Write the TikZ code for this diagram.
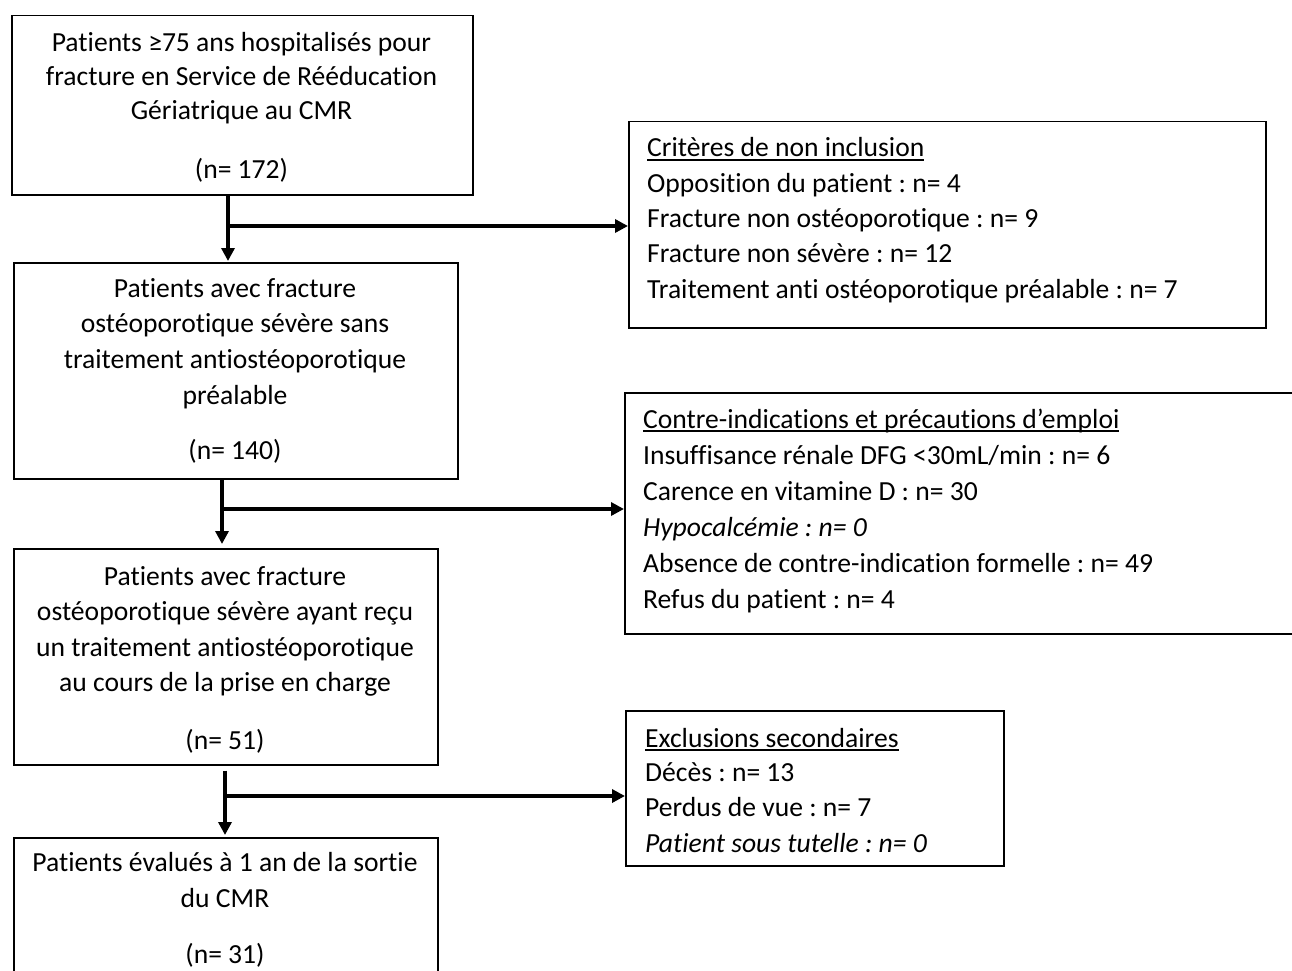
\documentclass[tikz,border=0pt]{standalone}
\usepackage{fontspec}
\setmainfont{Carlito}[Ligatures=NoCommon]
\usetikzlibrary{arrows.meta}
\frenchspacing
\newcommand\myul[1]{\setbox0\hbox{#1}\rlap{\rule[-3.5pt]{\wd0}{1.4pt}}\box0}
\begin{document}
\frenchspacing
\begin{tikzpicture}[x=1pt,y=-1pt,
  box/.style={draw, line width=1.5pt, rectangle, inner sep=0pt, anchor=north west},
  txt/.style={inner sep=0pt, font=\fontsize{27.6pt}{35pt}\selectfont},
  ctr/.style={txt, anchor=base},
  lft/.style={txt, anchor=base west},
  arr/.style={line width=3.5pt, -{Triangle[length=13pt,width=13pt]}}]
\useasboundingbox[fill=white] (0,0) rectangle (1292,971);

% boxes
\node[box, minimum width=461pt, minimum height=179pt] (b1) at (11,15) {};
\node[box, minimum width=637pt, minimum height=206pt] (r1) at (628,121) {};
\node[box, minimum width=444pt, minimum height=216pt] (b2) at (13,262) {};
\node[box, minimum width=720pt, minimum height=241pt] (r2) at (624,392) {};
\node[box, minimum width=424pt, minimum height=216pt] (b3) at (13,548) {};
\node[box, minimum width=378pt, minimum height=155pt] (r3) at (625,710) {};
\node[box, minimum width=424pt, minimum height=170pt] (b4) at (13,837) {};

% box 1 text
\node[ctr] (t1a) at (241.5,52) {Patients ≥75 ans hospitalisés pour};
\node[ctr] (t1b) at (241.5,86) {fracture en Service de Rééducation};
\node[ctr] (t1c) at (241.5,120) {Gériatrique au CMR};
\node[ctr] (t1d) at (241.5,178) {(n= 172)};

% right box 1
\node[lft] (u1a) at (647,157) {\myul{Critères de non inclusion}};
\node[lft] (u1b) at (647,192) {Opposition du patient : n= 4};
\node[lft] (u1c) at (647,227) {Fracture non ostéoporotique : n= 9};
\node[lft] (u1d) at (647,262) {Fracture non sévère : n= 12};
\node[lft] (u1e) at (647,298) {Traitement anti ostéoporotique préalable : n= 7};

% box 2 text
\node[ctr] (t2a) at (235,297) {Patients avec fracture};
\node[ctr] (t2b) at (235,332) {ostéoporotique sévère sans};
\node[ctr] (t2c) at (235,368) {traitement antiostéoporotique};
\node[ctr] (t2d) at (235,404) {préalable};
\node[ctr] (t2e) at (235,459) {(n= 140)};

% right box 2
\node[lft] (u2a) at (643,428) {\myul{Contre-indications et précautions d’emploi}};
\node[lft] (u2b) at (643,464) {Insuffisance rénale DFG <30mL/min : n= 6};
\node[lft] (u2c) at (643,500) {Carence en vitamine D : n= 30};
\node[lft] (u2d) at (643,536) {\itshape Hypocalcémie : n= 0};
\node[lft] (u2e) at (643,572) {Absence de contre-indication formelle : n= 49};
\node[lft] (u2f) at (643,608) {Refus du patient : n= 4};

% box 3 text
\node[ctr] (t3a) at (225,585) {Patients avec fracture};
\node[ctr] (t3b) at (225,620) {ostéoporotique sévère ayant reçu};
\node[ctr] (t3c) at (225,656) {un traitement antiostéoporotique};
\node[ctr] (t3d) at (225,691) {au cours de la prise en charge};
\node[ctr] (t3e) at (225,749) {(n= 51)};

% right box 3
\node[lft] (u3a) at (645,747) {\myul{Exclusions secondaires}};
\node[lft] (u3b) at (645,781) {Décès : n= 13};
\node[lft] (u3c) at (645,816) {Perdus de vue : n= 7};
\node[lft] (u3d) at (645,852) {\itshape Patient sous tutelle : n= 0};

% box 4 text
\node[ctr] (t4a) at (225,871) {Patients évalués à 1 an de la sortie};
\node[ctr] (t4b) at (225,907) {du CMR};
\node[ctr] (t4c) at (225,963) {(n= 31)};

% connectors
\coordinate (j1) at (228,226);
\coordinate (j2) at (222,509);
\coordinate (j3) at (225,796);
\draw[arr, shorten >=1pt] (b1.south -| j1) -- (b2.north -| j1);
\draw[arr] (j1) -- (r1.west |- j1);
\draw[arr, shorten >=4pt] (b2.south -| j2) -- (b3.north -| j2);
\draw[arr] (j2) -- (r2.west |- j2);
\draw[arr, shorten <=5pt, shorten >=2pt] (b3.south -| j3) -- (b4.north -| j3);
\draw[arr] (j3) -- (r3.west |- j3);
\end{tikzpicture}
\end{document}
